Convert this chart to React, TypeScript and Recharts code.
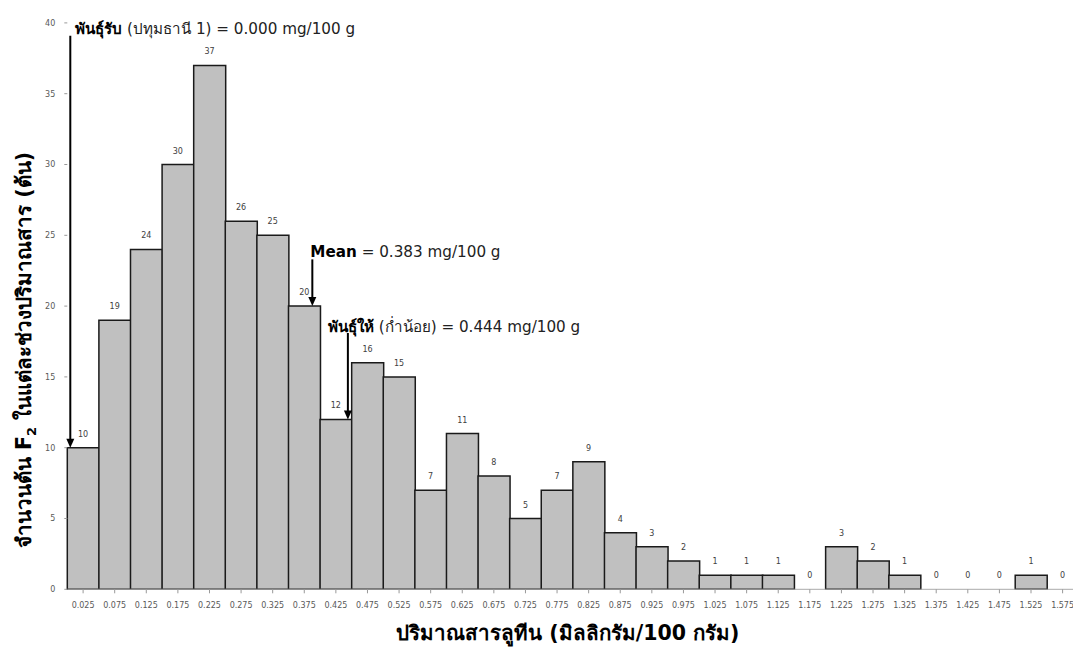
import { Bar, ComposedChart, LabelList, Line, ReferenceLine, XAxis, YAxis, Label } from "recharts";

const bins = [
  "0.025", "0.075", "0.125", "0.175", "0.225", "0.275", "0.325", "0.375",
  "0.425", "0.475", "0.525", "0.575", "0.625", "0.675", "0.725", "0.775",
  "0.825", "0.875", "0.925", "0.975", "1.025", "1.075", "1.125", "1.175",
  "1.225", "1.275", "1.325", "1.375", "1.425", "1.475", "1.525", "1.575",
];
const counts = [10, 19, 24, 30, 37, 26, 25, 20, 12, 16, 15, 7, 11, 8, 5, 7, 9, 4, 3, 2, 1, 1, 1, 0, 3, 2, 1, 0, 0, 0, 1, 0];
const yTicks = [0, 5, 10, 15, 20, 25, 30, 35, 40];

// annotated values (mg/100 g) and arrow start/end in plant counts
const markerNames = ["พันธุ์รับ", "Mean", "พันธุ์ให้"];
const markerNotes = [" (ปทุมธานี 1) = 0.000 mg/100 g", " = 0.383 mg/100 g", " (ก่ำน้อย) = 0.444 mg/100 g"];
const markerValues = [0, 0.383, 0.444];
const markerFrom = [39.1, 23.3, 18.1];
const markerTo = [10, 20, 12];

const data = bins.map((bin, i) => ({ bin, mid: parseFloat(bin), count: counts[i] }));

const font = "Tahoma, 'DejaVu Sans', 'Noto Sans', sans-serif";
const textShift = [
  { dx: 3, tx: 5, ty: -2 },
  { dx: 3, tx: -2, ty: -2 },
  { dx: 0, tx: -20, ty: -1 },
];

function Arrow(props: any, i: number) {
  const { x1, y1, y2 } = props;
  if (x1 == null) return <g />;
  const s = textShift[i];
  const x = x1 + s.dx;
  return (
    <g>
      <line x1={x} y1={y1} x2={x} y2={y2 - 7} stroke="#000" strokeWidth={2} />
      <polygon points={`${x - 4},${y2 - 9} ${x + 4},${y2 - 9} ${x},${y2}`} fill="#000" />
      <text x={x + s.tx} y={y1 + s.ty} fontFamily={font} fontSize={15.2} fill="#222">
        <tspan fontWeight="bold" fill="#000">{markerNames[i]}</tspan>
        <tspan>{markerNotes[i]}</tspan>
      </text>
    </g>
  );
}

function YTitle({ viewBox }: any) {
  const x = viewBox.x + 24;
  const y = 350;
  return (
    <text
      x={x}
      y={y}
      transform={`rotate(-90, ${x}, ${y})`}
      textAnchor="middle"
      fontFamily={font}
      fontSize={20.5}
      fontWeight="bold"
      fill="#000"
    >
      จำนวนต้น F<tspan fontSize={13} dy={5}>2</tspan>
      <tspan dy={-5}> ในแต่ละช่วงปริมาณสาร (ต้น)</tspan>
    </text>
  );
}

function XTitle({ viewBox }: any) {
  return (
    <text
      x={viewBox.x + viewBox.width / 2 - 5}
      y={viewBox.y + 51}
      textAnchor="middle"
      fontFamily={font}
      fontSize={20.5}
      fontWeight="bold"
      fill="#000"
    >
      ปริมาณสารลูทีน (มิลลิกรัม/100 กรัม)
    </text>
  );
}

export default function App() {
  return (
    <div style={{ position: "absolute", left: 0, top: 0, width: 1073, height: 648, overflow: "hidden", background: "#fff" }}>
      <ComposedChart
        width={1090}
        height={648}
        data={data}
        margin={{ top: 22.9, right: 11.6, bottom: 0, left: 7.3 }}
        barCategoryGap={0}
        barGap={0}
      >
        <XAxis
          xAxisId="bin"
          dataKey="bin"
          interval={0}
          height={58.7}
          tick={{ fontSize: 8, fill: "#595959", fontFamily: font }}
          tickSize={4}
          tickMargin={9}
          tickLine={{ stroke: "#999" }}
          axisLine={{ stroke: "#aaa" }}
        >
          <Label content={XTitle} />
        </XAxis>
        <XAxis xAxisId="val" dataKey="mid" type="number" domain={[0, 1.6]} allowDataOverflow hide />
        <YAxis
          domain={[0, 40]}
          ticks={yTicks}
          width={60}
          axisLine={false}
          tickSize={3}
          tickMargin={9}
          tickLine={{ stroke: "#999" }}
          tick={{ fontSize: 8, fill: "#595959", fontFamily: font }}
        >
          <Label content={YTitle} />
        </YAxis>
        <Bar xAxisId="bin" dataKey="count" fill="#c0c0c0" stroke="#1a1a1a" strokeWidth={1.5} isAnimationActive={false} />
        <Line
          xAxisId="bin"
          dataKey="count"
          stroke="none"
          dot={false}
          activeDot={false}
          legendType="none"
          isAnimationActive={false}
        >
          <LabelList dataKey="count" position="top" offset={11} fontSize={8} fill="#404040" fontFamily={font} />
        </Line>
        {markerValues.map((v, i) => (
          <ReferenceLine
            key={i}
            xAxisId="val"
            segment={[{ x: v, y: markerFrom[i] }, { x: v, y: markerTo[i] }]}
            ifOverflow="visible"
            shape={(p: any) => Arrow(p, i)}
          />
        ))}
      </ComposedChart>
    </div>
  );
}
